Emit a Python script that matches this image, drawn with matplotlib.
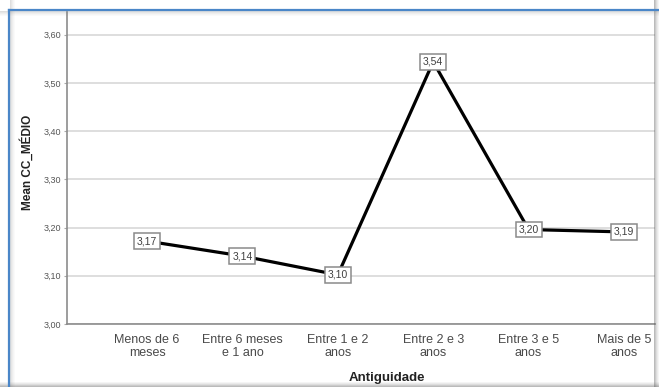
import matplotlib
matplotlib.use("Agg")
import matplotlib.pyplot as plt
from matplotlib.patches import Rectangle
from matplotlib.lines import Line2D

categories = ["Menos de 6\nmeses", "Entre 6 meses\ne 1 ano", "Entre 1 e 2\nanos",
              "Entre 2 e 3\nanos", "Entre 3 e 5\nanos", "Mais de 5\nanos"]
values = [3.172, 3.141, 3.102, 3.544, 3.196, 3.191]
labels = ["3,17", "3,14", "3,10", "3,54", "3,20", "3,19"]
yticks = [3.00, 3.10, 3.20, 3.30, 3.40, 3.50, 3.60]
yticklabels = ["3,00", "3,10", "3,20", "3,30", "3,40", "3,50", "3,60"]

plt.rcParams['font.family'] = ['Liberation Sans', 'DejaVu Sans']

W, H = 659, 387
fig = plt.figure(figsize=(W / 100, H / 100), dpi=100)
ax = fig.add_axes([67 / W, (H - 324) / H, (655 - 67) / W, (324 - 12) / H])

x = list(range(len(categories)))
ax.plot(x, values, color='black', lw=2.3, zorder=3, solid_capstyle='round')
for xi, v, lab in zip(x, values, labels):
    ax.text(xi, v, lab, ha='center', va='center', fontsize=7.5, color='#404040', zorder=4,
            bbox=dict(boxstyle='square,pad=0.28', fc='white', ec='#8a8a8a', lw=1.1))

ax.set_ylim(3.0, 3.0 + (324 - 12) / 482)
ax.set_xlim(-0.839, 5.325)
ax.set_yticks(yticks)
ax.set_yticklabels(yticklabels, fontsize=6.5, color='#555555')
ax.set_xticks(x)
ax.set_xticklabels(categories, fontsize=9, color='#4a4a4a', linespacing=1.1)
ax.tick_params(axis='x', length=0, pad=7)
ax.tick_params(axis='y', length=2, color='#aaaaaa', pad=2)
ax.grid(axis='y', color='#d8d8d8', lw=1.2)
ax.set_axisbelow(True)
for s in ['top', 'right']:
    ax.spines[s].set_visible(False)
for s in ['left', 'bottom']:
    ax.spines[s].set_color('#8c8c8c')
    ax.spines[s].set_linewidth(1.2)

ax.set_ylabel('Mean CC_MÉDIO', fontsize=8.5, fontweight='bold', color='#222222')
ax.set_xlabel('Antiguidade', fontsize=9.5, fontweight='bold', color='#222222')
ax.xaxis.set_label_coords((387 - 67) / 588, -(378 - 324) / 312)
ax.xaxis.label.set_va('center')
ax.yaxis.set_label_coords(-(67 - 27) / 588, (324 - 162) / 312)
ax.yaxis.label.set_va('center')

# screenshot frame decorations
for i, a in enumerate([0.40, 0.30, 0.20, 0.12, 0.06]):
    fig.add_artist(Rectangle((1 - (5 - i) / W, 0), 1 / W, 1, transform=fig.transFigure,
                             fc='#555555', alpha=a, ec='none'))
    fig.add_artist(Rectangle((0, i / H), 1, 1 / H, transform=fig.transFigure,
                             fc='#555555', alpha=a, ec='none'))
    fig.add_artist(Rectangle(((10 + i) / W, 0), 1 / W, 1, transform=fig.transFigure,
                             fc='#777777', alpha=a * 0.6, ec='none'))
    fig.add_artist(Rectangle((0, 1 - (12 + i) / H), 1, 1 / H, transform=fig.transFigure,
                             fc='#777777', alpha=a * 0.6, ec='none'))
fig.add_artist(Line2D([9 / W, 9 / W], [0, 1 - 10 / H], transform=fig.transFigure,
                      color='#4a86c8', lw=1.6))
fig.add_artist(Line2D([9 / W, 1], [1 - 10 / H, 1 - 10 / H], transform=fig.transFigure,
                      color='#4a86c8', lw=1.6))

fig.savefig('out.png', dpi=100)
